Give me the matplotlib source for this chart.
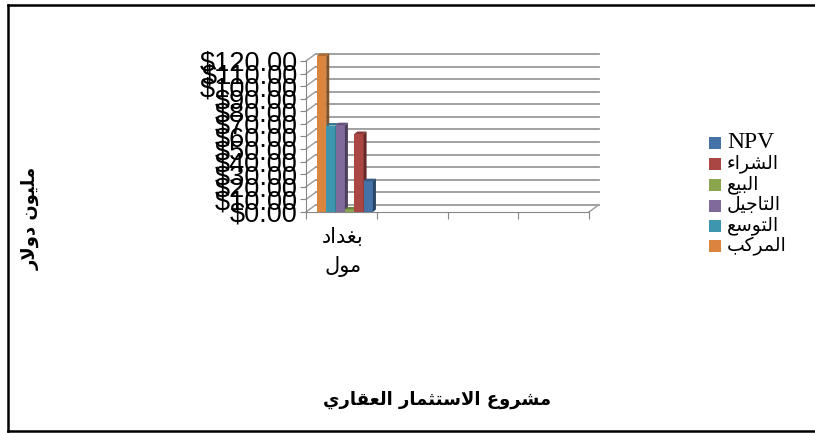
import matplotlib
matplotlib.use("Agg")
import matplotlib.pyplot as plt
from matplotlib.patches import Polygon, Rectangle
from matplotlib.lines import Line2D
from matplotlib.colors import to_rgb

# data
series = ['NPV', 'الشراء', 'البيع', 'التاجيل', 'التوسع', 'المركب']
values = [24.5, 62.0, 2.0, 69.0, 68.7, 124.0]
colors = ['#4572A7', '#AA4643', '#89A54E', '#80699B', '#3D96AE', '#DB843D']
categories = ['بغداد\nمول', '', '', '']
yticks = list(range(0, 121, 10))
x_title = 'مشروع الاستثمار العقاري'
y_title = 'مليون دولار'

# simple arabic shaping (presentation forms + visual order)
FORMS = {
    'ء': ('\uFE80', None, None, None),
    'ا': ('\uFE8D', '\uFE8E', None, None),
    'ب': ('\uFE8F', '\uFE90', '\uFE91', '\uFE92'),
    'ت': ('\uFE95', '\uFE96', '\uFE97', '\uFE98'),
    'ث': ('\uFE99', '\uFE9A', '\uFE9B', '\uFE9C'),
    'ج': ('\uFE9D', '\uFE9E', '\uFE9F', '\uFEA0'),
    'د': ('\uFEA9', '\uFEAA', None, None),
    'ر': ('\uFEAD', '\uFEAE', None, None),
    'س': ('\uFEB1', '\uFEB2', '\uFEB3', '\uFEB4'),
    'ش': ('\uFEB5', '\uFEB6', '\uFEB7', '\uFEB8'),
    'ع': ('\uFEC9', '\uFECA', '\uFECB', '\uFECC'),
    'غ': ('\uFECD', '\uFECE', '\uFECF', '\uFED0'),
    'ق': ('\uFED5', '\uFED6', '\uFED7', '\uFED8'),
    'ك': ('\uFED9', '\uFEDA', '\uFEDB', '\uFEDC'),
    'ل': ('\uFEDD', '\uFEDE', '\uFEDF', '\uFEE0'),
    'م': ('\uFEE1', '\uFEE2', '\uFEE3', '\uFEE4'),
    'ن': ('\uFEE5', '\uFEE6', '\uFEE7', '\uFEE8'),
    'و': ('\uFEED', '\uFEEE', None, None),
    'ي': ('\uFEF1', '\uFEF2', '\uFEF3', '\uFEF4'),
    '\uFEFB': ('\uFEFB', '\uFEFC', None, None),
}


def shape_line(text):
    if not any(c in FORMS for c in text):
        return text
    s = text.replace('لا', '\uFEFB')
    out = []
    for i, ch in enumerate(s):
        if ch not in FORMS:
            out.append(ch)
            continue
        f = FORMS[ch]
        prev = s[i - 1] if i > 0 else None
        nxt = s[i + 1] if i + 1 < len(s) else None
        jp = prev in FORMS and FORMS[prev][2] is not None
        jn = f[2] is not None and nxt in FORMS and FORMS[nxt][1] is not None
        if jp and jn:
            out.append(f[3])
        elif jp:
            out.append(f[1])
        elif jn:
            out.append(f[2])
        else:
            out.append(f[0])
    return ''.join(reversed(out))


def ar(text):
    return '\n'.join(shape_line(t) for t in text.split('\n'))


def shade(c, k):
    r, g, b = to_rgb(c)
    return (r * k, g * k, b * k)


W, H = 815, 433
fig = plt.figure(figsize=(W / 100, H / 100), dpi=100)

# outer frame
fig.add_artist(Line2D([8 / W, 8 / W], [1 - 5 / H, 1 - 431 / H], color='black', lw=1.8))
fig.add_artist(Line2D([8 / W, 1], [1 - 5 / H, 1 - 5 / H], color='black', lw=1.8))
fig.add_artist(Line2D([8 / W, 1], [1 - 431 / H, 1 - 431 / H], color='black', lw=1.8))

ax = fig.add_axes([306 / W, (H - 212) / H, 283 / W, 151 / H])
ax.set_xlim(0, 4)
ax.set_ylim(0, 120)

# pseudo 3d depth of walls/floor, in data units
DX = 9.5 / 70.75
DY = 7 / 1.258
grid_c = '#9a9a9a'
for v in yticks:
    ax.plot([DX, 4 + DX], [v + DY, v + DY], color=grid_c, lw=1.3, clip_on=False, zorder=0)
    ax.plot([0, DX], [v, v + DY], color=grid_c, lw=1.0, clip_on=False, zorder=0)
ax.plot([4, 4 + DX], [0, DY], color=grid_c, lw=1.0, clip_on=False, zorder=0)

# bars (left to right: reverse of legend order)
bw = 0.132
center = 0.55
n = len(series)
sdx = 3 / 70.75
sdy = 2.5 / 1.258
for i, (name, val, col) in enumerate(zip(series, values, colors)):
    j = n - 1 - i
    x = center + (j - (n - 1) / 2) * bw
    ax.bar(x, val, width=bw, color=col, zorder=3 + j, clip_on=False)
    xl, xr = x - bw / 2, x + bw / 2
    side = Polygon([(xr, 0), (xr + sdx, sdy), (xr + sdx, val + sdy), (xr, val)],
                   closed=True, facecolor=shade(col, 0.6), edgecolor='none',
                   zorder=3 + j, clip_on=False)
    top = Polygon([(xl, val), (xr, val), (xr + sdx, val + sdy), (xl + sdx, val + sdy)],
                  closed=True, facecolor=shade(col, 0.8), edgecolor='none',
                  zorder=3 + j, clip_on=False)
    ax.add_patch(side)
    ax.add_patch(top)

# axes styling
for s in ['top', 'right']:
    ax.spines[s].set_visible(False)
ax.spines['left'].set_color('#868686')
ax.spines['bottom'].set_color('#868686')
ax.set_yticks(yticks)
ax.set_yticklabels([f'${v:.2f}' for v in yticks], fontfamily='Liberation Sans', fontsize=19.5)
ax.tick_params(axis='y', direction='out', length=4, color='#868686', pad=2)
ax.set_xticks([0, 1, 2, 3, 4])
ax.set_xticklabels([])
ax.tick_params(axis='x', which='major', direction='out', length=5, color='#868686')
ax.set_xticks([0.52, 1.5, 2.5, 3.5], minor=True)
ax.set_xticklabels([ar(c) for c in categories], minor=True, fontfamily='DejaVu Sans',
                   fontsize=15, linespacing=1.55)
ax.tick_params(axis='x', which='minor', length=0, pad=11)
ax.set_facecolor('none')

# axis titles
fig.text(437 / W, 1 - 400 / H, ar(x_title), ha='center', va='center',
         fontfamily='DejaVu Sans', fontweight='bold', fontsize=13)
fig.text(31 / W, 1 - 218 / H, ar(y_title), ha='center', va='center', rotation=90,
         fontfamily='DejaVu Sans', fontweight='bold', fontsize=13)

# legend
rows = [143, 164, 185, 206, 226, 246]
for name, col, ry in zip(series, colors, rows):
    fig.add_artist(Rectangle((709 / W, 1 - (ry + 6) / H), 12 / W, 12 / H,
                             facecolor=col, edgecolor='none'))
    size = 17 if name.isascii() else 13.5
    fig.text(727 / W, 1 - ry / H, ar(name), ha='left', va='center',
             fontfamily=['Liberation Serif', 'DejaVu Sans'], fontsize=size)

fig.savefig('out.png', dpi=100)
